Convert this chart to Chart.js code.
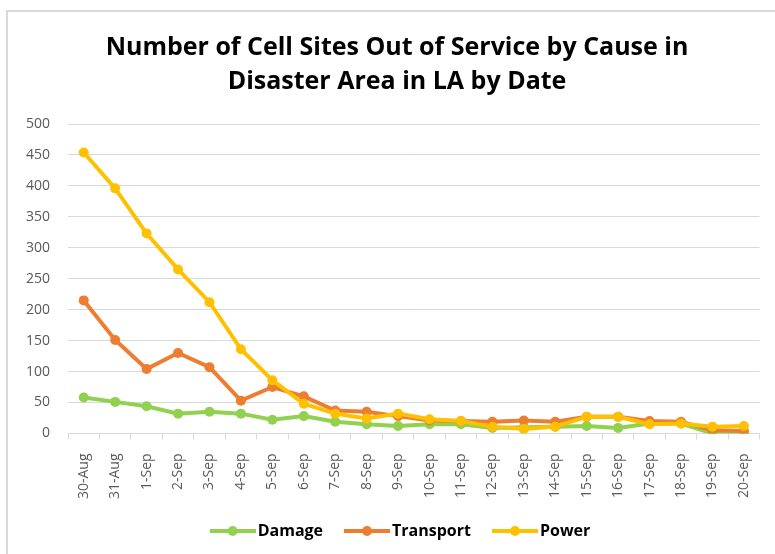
<!DOCTYPE html>
<html>
<head>
<meta charset="utf-8">
<script src="https://cdn.jsdelivr.net/npm/chart.js@4"></script>
<style>
  html, body { margin: 0; padding: 0; background: #fff; overflow: hidden; }
  #wrap { position: relative; width: 775px; height: 554px; overflow: hidden; }
  #frame { position: absolute; left: 6px; top: 10px; width: 820px; height: 600px; border: 2px solid #d9d9d9; }
  #c { position: absolute; left: 0; top: 0; }
</style>
</head>
<body>
<div id="wrap">
  <div id="frame"></div>
  <canvas id="c" width="775" height="554"></canvas>
</div>
<script>
/* ---------- dados ---------- */
const datas = ["30-Aug","31-Aug","1-Sep","2-Sep","3-Sep","4-Sep","5-Sep","6-Sep","7-Sep","8-Sep","9-Sep",
  "10-Sep","11-Sep","12-Sep","13-Sep","14-Sep","15-Sep","16-Sep","17-Sep","18-Sep","19-Sep","20-Sep"];
const damage    = [58, 51, 44, 32, 35, 32, 22, 28, 19, 15, 12, 15, 15, 9, 10, 11, 12, 9, 16, 16, 0, 1];
const transport = [215, 151, 104, 130, 107, 53, 75, 60, 37, 35, 28, 21, 20, 19, 21, 19, 27, 27, 20, 19, 5, 4];
const power     = [454, 396, 323, 265, 212, 136, 86, 48, 32, 24, 32, 23, 20, 11, 7, 11, 27, 27, 15, 16, 11, 12];
const yTicks    = [0, 50, 100, 150, 200, 250, 300, 350, 400, 450, 500];

const CORES = { damage: "#92D050", transport: "#ED7D31", power: "#FFC000" };
const FONTE = "'Open Sans', Lato, sans-serif";

/* legenda: linha com ponto */
function marcador(cor) {
  const cv = document.createElement("canvas");
  cv.width = 46; cv.height = 12;
  const ctx = cv.getContext("2d");
  ctx.strokeStyle = cor; ctx.lineWidth = 4;
  ctx.beginPath(); ctx.moveTo(0, 6); ctx.lineTo(46, 6); ctx.stroke();
  ctx.fillStyle = cor;
  ctx.beginPath(); ctx.arc(23, 6, 5, 0, Math.PI * 2); ctx.fill();
  return cv;
}

function serie(label, data, cor, ordem) {
  return {
    label, data, order: ordem,
    borderColor: cor, backgroundColor: cor,
    borderWidth: 4, pointRadius: 5, pointHoverRadius: 5,
    pointBackgroundColor: cor, pointBorderWidth: 0,
    pointStyle: "circle", legendStyle: marcador(cor), tension: 0
  };
}

const ds = [
  serie("Damage", damage, CORES.damage, 2),
  serie("Transport", transport, CORES.transport, 1),
  serie("Power", power, CORES.power, 0)
];

/* desloca legenda e título para a posição do original */
const ajustaPosicoes = {
  id: "ajustaPosicoes",
  afterLayout(chart) {
    const lg = chart.legend;
    lg.left += 18; lg.right += 18;
    lg.top -= 17; lg.bottom -= 17;
    const tb = chart.titleBlock;
    tb.left += 12; tb.right += 12;
    tb.top += 1; tb.bottom += 1;
  }
};

new Chart(document.getElementById("c"), {
  type: "line",
  data: { labels: datas, datasets: ds },
  plugins: [ajustaPosicoes],
  options: {
    responsive: false,
    animation: false,
    layout: { padding: { left: 8, right: 13, top: 0, bottom: -12 } },
    plugins: {
      title: {
        display: true,
        text: ["Number of Cell Sites Out of Service by Cause in", "Disaster Area in LA by Date"],
        color: "#000",
        font: { family: FONTE, size: 25, weight: "bold", lineHeight: 1.36 },
        padding: { top: 30, bottom: 26 }
      },
      legend: {
        position: "bottom",
        labels: {
          usePointStyle: true,
          pointStyleWidth: 34,
          padding: 27,
          color: "#000",
          font: { family: FONTE, size: 16, weight: "bold" },
          generateLabels: (chart) => chart.data.datasets.map((d, i) => ({
            text: d.label, datasetIndex: i, pointStyle: d.legendStyle,
            fillStyle: d.borderColor, strokeStyle: d.borderColor, lineWidth: 0,
            fontColor: "#000", hidden: false
          }))
        }
      },
      tooltip: { enabled: false }
    },
    scales: {
      x: {
        offset: true,
        grid: { display: true, offset: true, drawOnChartArea: false, drawTicks: true, tickLength: 6, color: "#d9d9d9" },
        border: { display: true, color: "#d9d9d9", width: 1 },
        ticks: {
          color: "#595959", font: { family: FONTE, size: 14 },
          minRotation: 90, maxRotation: 90, autoSkip: false, padding: 14
        }
      },
      y: {
        min: 0, max: 500,
        afterBuildTicks: (ax) => { ax.ticks = yTicks.map(v => ({ value: v })); },
        grid: { color: "#d9d9d9", drawTicks: false, lineWidth: 1 },
        border: { display: false },
        ticks: { color: "#595959", font: { family: FONTE, size: 14 }, padding: 18 }
      }
    }
  }
});
</script>
</body>
</html>
